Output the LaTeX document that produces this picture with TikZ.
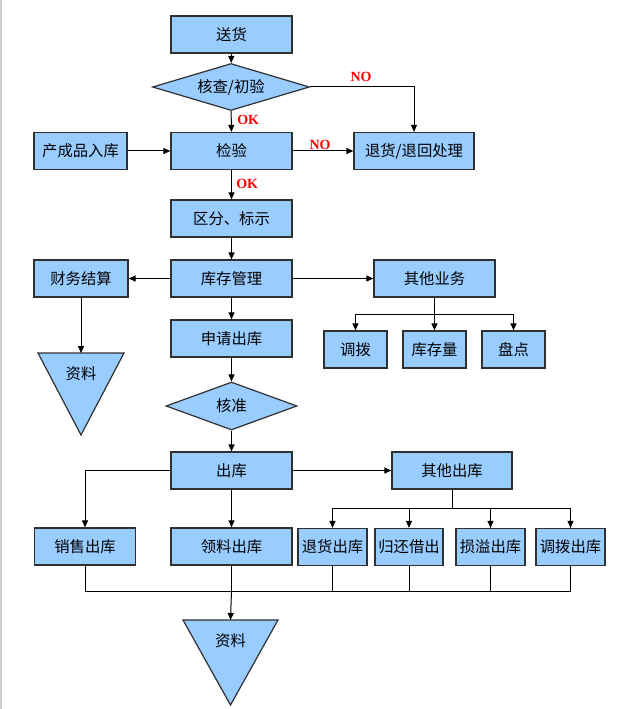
\documentclass[tikz,border=0pt]{standalone}
\usepackage{fontspec}
\setmainfont{Liberation Serif}
\newfontfamily\cjk{Noto Sans CJK SC}
\usetikzlibrary{arrows.meta,shapes.geometric}
\definecolor{boxblue}{HTML}{99CCFF}
\definecolor{edge}{HTML}{303030}
\def\u{0.75pt}
\tikzset{
  box/.style={draw=edge, line width=0.9pt, fill=boxblue, inner sep=0pt,
    minimum height=37*\u, font=\cjk\fontsize{11.5}{13}\selectfont},
  dia/.style={diamond, draw=edge, line width=0.9pt, fill=boxblue, inner sep=0pt, aspect=3.3,
    font=\cjk\fontsize{11.5}{13}\selectfont},
  tri/.style={draw=edge, line width=0.9pt, fill=boxblue},
  lbl/.style={font=\cjk\fontsize{11.5}{13}\selectfont},
  arr/.style={draw=black, line width=0.75pt, -{Triangle[length=7*\u,width=6*\u]}},
  ln/.style={draw=black, line width=0.75pt},
  ok/.style={text=red, font=\bfseries\fontsize{10.5}{12}\selectfont, inner sep=0pt}
}
\begin{document}
\begin{tikzpicture}[x=0.75pt,y=-0.75pt]
\useasboundingbox (0,0) rectangle (640,709);
\draw[gray!40, line width=1pt] (1,0) -- (1,709);
% nodes
\node[box, minimum width=121*\u] (songhuo) at (231.5,34.5) {送货};
\node[dia, minimum width=157*\u, minimum height=47*\u] (hecha) at (231,87) {核查/初验};
\node[box, minimum width=121*\u] (jianyan) at (231.5,151) {检验};
\node[box, minimum width=93*\u] (chengpin) at (80.5,151) {产成品入库};
\node[box, minimum width=120*\u] (tuihuo) at (414,151) {退货/退回处理};
\node[box, minimum width=121*\u] (qufen) at (231.5,218.5) {区分、标示};
\node[box, minimum width=121*\u] (kucun) at (231.5,278.5) {库存管理};
\node[box, minimum width=94*\u] (caiwu) at (81,278.5) {财务结算};
\node[box, minimum width=121*\u] (qita) at (434.5,278.5) {其他业务};
\node[box, minimum width=63*\u] (diaobo) at (355.5,349.5) {调拨};
\node[box, minimum width=63*\u] (kcl) at (434.5,349.5) {库存量};
\node[box, minimum width=63*\u] (pandian) at (513.5,349.5) {盘点};
\node[box, minimum width=121*\u] (shenqing) at (231.5,338.5) {申请出库};
\node[dia, minimum width=131*\u, minimum height=48*\u] (hezhun) at (231.5,406) {核准};
\node[box, minimum width=121*\u] (chuku) at (231.5,470.5) {出库};
\node[box, minimum width=120*\u] (qtck) at (452,470.5) {其他出库};
\node[box, minimum width=101*\u] (xiaoshou) at (85,546.5) {销售出库};
\node[box, minimum width=121*\u] (lingliao) at (231.5,546.5) {领料出库};
\node[box, minimum width=69*\u] (thck) at (332.5,547) {退货出库};
\node[box, minimum width=68*\u] (guihuan) at (409,547) {归还借出};
\node[box, minimum width=69*\u] (sunyi) at (490.5,547) {损溢出库};
\node[box, minimum width=69*\u] (dbck) at (570.5,547) {调拨出库};
% triangles
\draw[tri] (38,353) -- (124,353) -- (81,435) -- cycle;
\coordinate (zl1) at (81,353);
\node[lbl] (zl1t) at (81,374) {资料};
\draw[tri] (183,620) -- (278,620) -- (230.5,705) -- cycle;
\coordinate (zl2) at (230.5,620);
\node[lbl] (zl2t) at (230.5,641) {资料};
% connectors
\path[arr] (songhuo) -- (hecha);
\path[arr] (hecha) -- (jianyan);
\node[ok, anchor=west] (ok1) at (237,120) {OK};
\path[arr] (hecha.east) -| (tuihuo.north);
\node[ok] (no1) at (361,77) {NO};
\path[arr] (chengpin) -- (jianyan);
\path[arr] (jianyan) -- (tuihuo);
\node[ok] (no2) at (320,145) {NO};
\path[arr] (jianyan) -- (qufen);
\node[ok, anchor=west] (ok2) at (236,184) {OK};
\path[arr] (qufen) -- (kucun);
\path[arr] (kucun) -- (caiwu);
\path[arr] (kucun) -- (qita);
\path[arr] (caiwu) -- (zl1);
\path[ln] (qita.south) -- ++(0,17) coordinate (qb);
\path[arr] (qb) -| (diaobo.north);
\path[arr] (qb) -- (kcl.north);
\path[arr] (qb) -| (pandian.north);
\path[arr] (kucun) -- (shenqing);
\path[arr] (shenqing) -- (hezhun);
\path[arr] (hezhun) -- (chuku);
\path[arr] (chuku) -- (qtck);
\path[arr] (chuku.west) -| (xiaoshou.north);
\path[arr] (chuku) -- (lingliao);
\path[ln] (qtck.south) -- ++(0,19) coordinate (ob);
\path[arr] (ob) -| (thck.north);
\path[arr] (ob) -| (guihuan.north);
\path[arr] (ob) -| (sunyi.north);
\path[arr] (ob) -| (dbck.north);
% collector
\coordinate (cb) at (231.5,591);
\path[ln] (xiaoshou.south) |- (cb);
\path[ln] (thck.south) |- (cb);
\path[ln] (guihuan.south) |- (cb);
\path[ln] (sunyi.south) |- (cb);
\path[ln] (dbck.south) |- (cb);
\path[ln] (lingliao.south) -- (cb);
\path[arr] (cb) -- (zl2);
\end{tikzpicture}
\end{document}
